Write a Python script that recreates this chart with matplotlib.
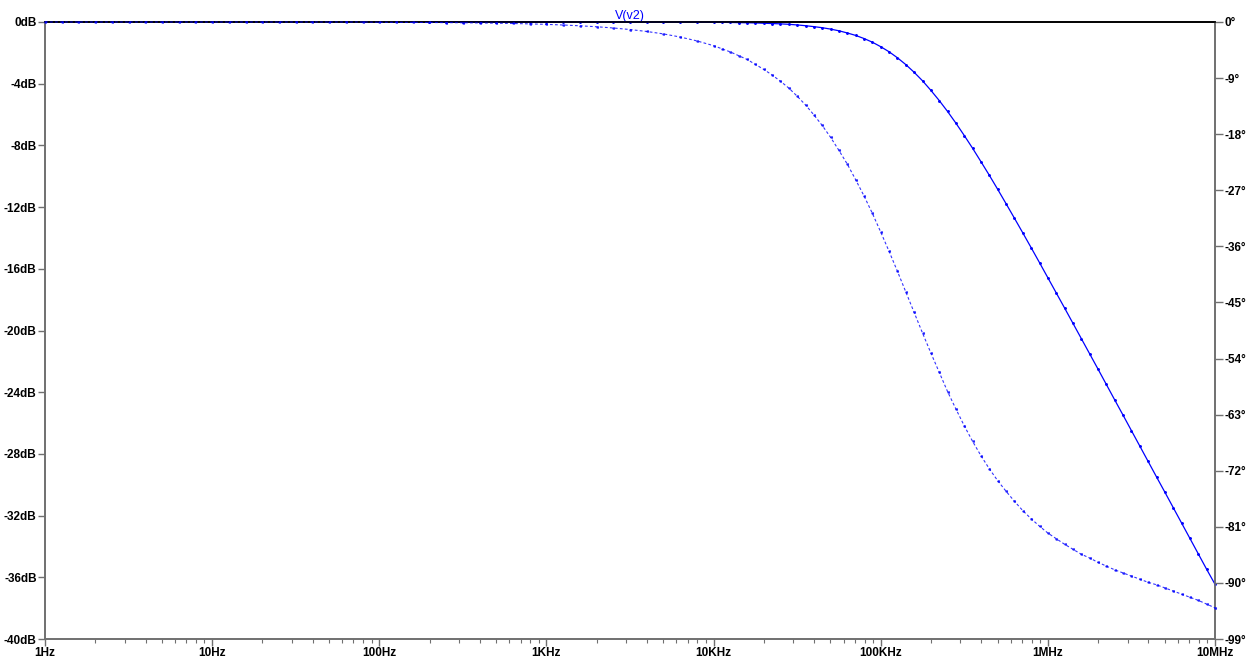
import numpy as np
import matplotlib
matplotlib.use("Agg")
import matplotlib.pyplot as plt
from matplotlib.ticker import FixedLocator, LogLocator, NullFormatter

# frequency points, as log10(Hz)
log_freq = [
    0.0, 0.1, 0.2, 0.3, 0.4, 0.5, 0.6, 0.7, 0.8, 0.9,
    1.0, 1.1, 1.2, 1.3, 1.4, 1.5, 1.6, 1.7, 1.8, 1.9,
    2.0, 2.1, 2.2, 2.3, 2.4, 2.5, 2.6, 2.7, 2.8, 2.9,
    3.0, 3.1, 3.2, 3.3, 3.4, 3.5, 3.6, 3.7, 3.8, 3.9,
    4.00, 4.05, 4.10, 4.15, 4.20, 4.25, 4.30, 4.35, 4.40, 4.45,
    4.50, 4.55, 4.60, 4.65, 4.70, 4.75, 4.80, 4.85, 4.90, 4.95,
    5.00, 5.05, 5.10, 5.15, 5.20, 5.25, 5.30, 5.35, 5.40, 5.45,
    5.50, 5.55, 5.60, 5.65, 5.70, 5.75, 5.80, 5.85, 5.90, 5.95,
    6.00, 6.05, 6.10, 6.15, 6.20, 6.25, 6.30, 6.35, 6.40, 6.45,
    6.50, 6.55, 6.60, 6.65, 6.70, 6.75, 6.80, 6.85, 6.90, 6.95,
    7.00,
]

# V(v2) magnitude, dB (trace only visible from ~200Hz up)
nan = np.nan
mag_db = [
    nan, nan, nan, nan, nan, nan, nan, nan, nan, nan,
    nan, nan, nan, nan, nan, nan, nan, nan, nan, nan,
    nan, nan, nan, 0.0, 0.0, 0.0, 0.0, 0.0, 0.0, 0.0,
    0.0, 0.0, 0.0, 0.0, 0.0, 0.0, -0.01, -0.01, -0.01, -0.01,
    -0.02, -0.02, -0.03, -0.04, -0.05, -0.06, -0.08, -0.10, -0.12, -0.15,
    -0.19, -0.24, -0.30, -0.37, -0.46, -0.57, -0.71, -0.87, -1.07, -1.31,
    -1.60, -1.93, -2.32, -2.76, -3.26, -3.81, -4.43, -5.09, -5.80, -6.56,
    -7.36, -8.19, -9.06, -9.94, -10.85, -11.78, -12.72, -13.67, -14.63, -15.60,
    -16.58, -17.56, -18.54, -19.53, -20.52, -21.51, -22.50, -23.50, -24.50, -25.49,
    -26.49, -27.49, -28.49, -29.49, -30.48, -31.48, -32.48, -33.48, -34.48, -35.48,
    -36.45,
]

# V(v2) phase, degrees
phase_deg = [
    0.0, 0.0, 0.0, 0.0, 0.0, 0.0, 0.0, 0.0, 0.0, 0.0,
    0.0, 0.0, 0.0, 0.0, 0.0, 0.0, 0.0, 0.0, 0.0, 0.0,
    -0.04, -0.05, -0.06, -0.08, -0.1, -0.12, -0.15, -0.19, -0.24, -0.30,
    -0.38, -0.48, -0.61, -0.76, -0.96, -1.21, -1.52, -1.91, -2.41, -3.03,
    -3.8, -4.3, -4.8, -5.4, -6.0, -6.8, -7.6, -8.5, -9.5, -10.6,
    -11.9, -13.3, -14.9, -16.6, -18.5, -20.6, -22.8, -25.3, -27.9, -30.7,
    -33.7, -36.8, -40.0, -43.3, -46.6, -49.9, -53.1, -56.2, -59.3, -62.1,
    -64.8, -67.3, -69.6, -71.7, -73.6, -75.3, -76.9, -78.4, -79.7, -80.9,
    -82.0, -82.9, -83.8, -84.6, -85.4, -86.0, -86.7, -87.3, -87.9, -88.4,
    -88.9, -89.4, -89.9, -90.3, -90.8, -91.3, -91.8, -92.3, -92.8, -93.4,
    -94.0,
]

db_ticks = [0, -4, -8, -12, -16, -20, -24, -28, -32, -36, -40]
deg_ticks = [0, -9, -18, -27, -36, -45, -54, -63, -72, -81, -90, -99]
freq_ticks = [1, 10, 100, 1e3, 1e4, 1e5, 1e6, 1e7]
freq_labels = ["1Hz", "10Hz", "100Hz", "1KHz", "10KHz", "100KHz", "1MHz", "10MHz"]

BLUE = "#0000ff"
AXIS_GREY = "#707070"
FONT = dict(family="Liberation Sans", size=8.5, weight="bold")

freq = 10 ** np.array(log_freq)

fig = plt.figure(figsize=(12.57, 6.62), dpi=100)
ax = fig.add_axes([45 / 1257, 23 / 662, 1170 / 1257, 617 / 662])
ax2 = ax.twinx()

ax.plot(freq, mag_db, color=BLUE, linewidth=0.9, marker=".", markersize=2.2,
        clip_on=False, zorder=3)
ax2.plot(freq, phase_deg, color=BLUE, linewidth=0.8, linestyle=(0, (2.5, 2)),
         marker="<", markersize=1.2, alpha=0.8, clip_on=False, zorder=3)

ax.set_xscale("log")
ax.set_xlim(1, 1e7)
ax.set_ylim(-40, 0)
ax2.set_ylim(-99, 0)

ax.xaxis.set_major_locator(FixedLocator(freq_ticks))
ax.xaxis.set_minor_locator(LogLocator(base=10, subs=range(2, 10), numticks=20))
ax.xaxis.set_minor_formatter(NullFormatter())
ax.set_xticklabels(freq_labels, **FONT)

ax.set_yticks(db_ticks)
ax.set_yticklabels([f"{t}dB" for t in db_ticks], **FONT)
ax2.set_yticks(deg_ticks)
ax2.set_yticklabels([f"{t}\u00b0" for t in deg_ticks], **FONT)

ax.tick_params(axis="x", which="major", direction="out", length=5, width=1,
               color=AXIS_GREY, pad=1)
ax.tick_params(axis="x", which="minor", direction="out", length=3, width=0.8,
               color=AXIS_GREY)
ax.tick_params(axis="y", direction="out", length=5, width=1, color=AXIS_GREY, pad=1)
ax2.tick_params(axis="y", direction="out", length=6, width=1, color=AXIS_GREY, pad=1)

for a in (ax, ax2):
    for side in ("left", "right", "bottom"):
        a.spines[side].set_color(AXIS_GREY)
        a.spines[side].set_linewidth(1.2)
    a.spines["top"].set_color("black")
    a.spines["top"].set_linewidth(1.2)

ax.set_title("V(v2)", color=BLUE, fontsize=9, family="Liberation Sans", pad=2)

fig.savefig("out.png", dpi=100)
